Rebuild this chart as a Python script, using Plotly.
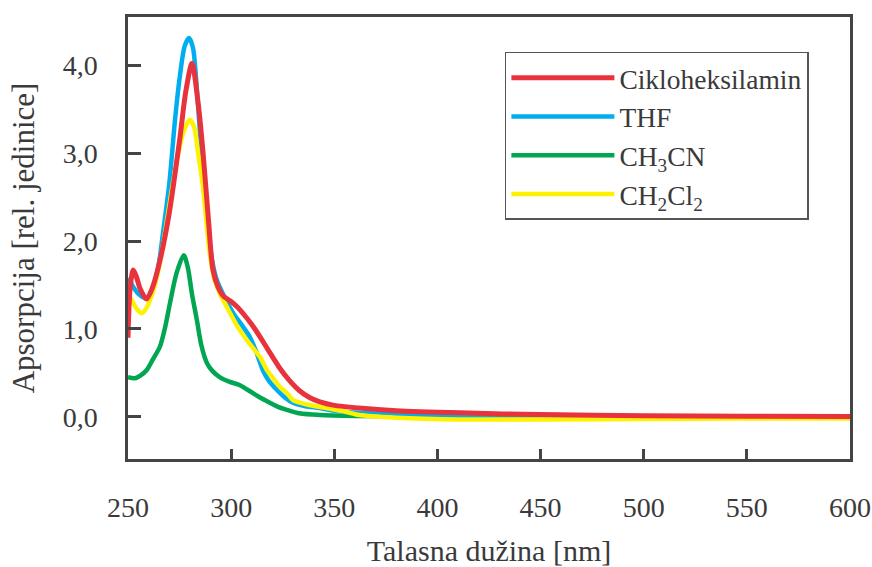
import plotly.graph_objects as go

# ---------------- data ----------------
red_x = [250, 251, 252.5, 254, 256, 259, 262, 265.5, 270, 275.2, 278, 281, 284, 286.4,
         289, 291.2, 293.6, 296, 299.5, 303, 306, 310, 314, 318, 323.7, 328, 333, 338,
         343, 350, 362, 380, 411, 450, 500, 550, 600]
red_y = [0.90, 1.45, 1.67, 1.60, 1.45, 1.34, 1.48, 1.78, 2.32, 3.18, 3.70, 4.02, 3.57, 3.00,
         2.24, 1.67, 1.48, 1.38, 1.32, 1.25, 1.17, 1.05, 0.91, 0.76, 0.55, 0.42, 0.30, 0.22,
         0.17, 0.13, 0.10, 0.07, 0.045, 0.025, 0.012, 0.006, 0.005]

thf_x = [250, 252, 255, 259, 262, 265, 267, 270, 272.8, 275, 277.5, 279.6, 281.5, 283,
         285, 287.3, 289, 291, 293, 296, 301, 305, 309, 312, 315.4, 318, 322, 326, 330,
         336, 343, 350, 362, 380, 400, 450, 500, 600]
thf_y = [1.58, 1.50, 1.40, 1.35, 1.45, 1.75, 2.10, 2.65, 3.38, 3.85, 4.22, 4.31, 4.20, 3.85,
         3.20, 2.60, 2.10, 1.75, 1.56, 1.40, 1.18, 1.05, 0.91, 0.75, 0.53, 0.42, 0.31, 0.22, 0.16,
         0.12, 0.10, 0.07, 0.045, 0.03, 0.02, 0.01, 0.005, 0.0]

acn_x = [250, 253.4, 256, 259, 262, 265.5, 268, 270.4, 273.6, 277, 279, 281, 283.4, 285.5,
         288.3, 291, 294.6, 299, 304.3, 307, 310.6, 314, 318.8, 323, 327, 333, 343, 360,
         400, 600]
acn_y = [0.45, 0.44, 0.47, 0.53, 0.65, 0.80, 1.02, 1.30, 1.64, 1.84, 1.70, 1.40, 1.10, 0.82,
         0.61, 0.52, 0.45, 0.40, 0.36, 0.32, 0.27, 0.22, 0.16, 0.11, 0.08, 0.04, 0.02, 0.01,
         0.005, 0.0]

dcm_x = [250, 252, 254.5, 256.8, 259, 262, 265, 268, 271, 274, 277, 280, 282, 284, 286.4,
         288.5, 290, 292, 295, 299.5, 303, 307.7, 312, 314, 317.4, 320, 323.7, 327, 330,
         336.8, 346, 355, 362, 380, 411, 450, 500, 550, 600]
dcm_y = [1.40, 1.32, 1.22, 1.18, 1.24, 1.42, 1.70, 2.10, 2.55, 2.95, 3.25, 3.38, 3.30, 3.00,
         2.60, 2.10, 1.80, 1.56, 1.38, 1.18, 1.03, 0.87, 0.74, 0.68, 0.53, 0.45, 0.34, 0.27,
         0.19, 0.14, 0.10, 0.06, 0.02, -0.01, -0.03, -0.03, -0.025, -0.02, -0.02]

names = ["Cikloheksilamin", "THF", "CH<sub>3</sub>CN", "CH<sub>2</sub>Cl<sub>2</sub>"]
colors = ["#E8323C", "#00AEEF", "#00A651", "#FFF200"]

x_ticks = [250, 300, 350, 400, 450, 500, 550, 600]
y_ticks = [0, 1, 2, 3, 4]

FONT = "Times New Roman, Liberation Serif, Tinos, DejaVu Serif, serif"
TXT = "#3a3a3a"
AX = "#444444"

fig = go.Figure()
# draw order: green, blue, yellow, red (legend order set with legendrank)
series = [
    (acn_x, acn_y, names[2], colors[2], 3, 4.5),
    (thf_x, thf_y, names[1], colors[1], 2, 4.5),
    (dcm_x, dcm_y, names[3], colors[3], 4, 4.5),
    (red_x, red_y, names[0], colors[0], 1, 5),
]
for xs, ys, nm, col, rank, lw in series:
    fig.add_trace(go.Scatter(
        x=xs, y=ys, name=nm, mode="lines",
        line=dict(color=col, width=lw, shape="spline", smoothing=0.8),
        legendrank=rank,
    ))

fig.update_layout(
    width=872, height=567,
    margin=dict(l=128, r=22, t=17, b=108),
    paper_bgcolor="white", plot_bgcolor="white",
    separators=",.",
    font=dict(family=FONT, size=28, color=TXT),
    showlegend=True,
    legend=dict(
        x=0.522, y=0.921, xanchor="left", yanchor="top",
        bordercolor="#555555", borderwidth=1.5, bgcolor="white",
        font=dict(family=FONT, size=27.5, color=TXT),
        itemwidth=103, tracegroupgap=0,
    ),
)
fig.update_xaxes(
    range=[250, 600], tickvals=x_ticks, ticktext=[str(v) for v in x_ticks],
    ticks="inside", ticklen=10, tickwidth=2.5, tickcolor=AX,
    showline=True, linewidth=2.5, linecolor=AX, mirror=True,
    showgrid=False, zeroline=False, automargin=False,
    ticklabelstandoff=22,
    tickfont=dict(family=FONT, size=28, color=TXT),
    title=dict(text="Talasna dužina [nm]", font=dict(family=FONT, size=30, color=TXT), standoff=20),
)
fig.update_yaxes(
    range=[-0.48, 4.55], tickvals=y_ticks, tickformat=".1f",
    ticks="inside", ticklen=13, tickwidth=2.5, tickcolor=AX,
    showline=True, linewidth=2.5, linecolor=AX, mirror=True,
    showgrid=False, zeroline=False, automargin=False,
    ticklabelstandoff=22,
    tickfont=dict(family=FONT, size=28, color=TXT),
    title=dict(text="Apsorpcija [rel. jedinice]", font=dict(family=FONT, size=31, color=TXT), standoff=19),
)

fig.write_html(
    "out.html",
    config={"displayModeBar": False},
    post_script="document.body.style.margin='0px';document.body.style.overflow='hidden';",
)
